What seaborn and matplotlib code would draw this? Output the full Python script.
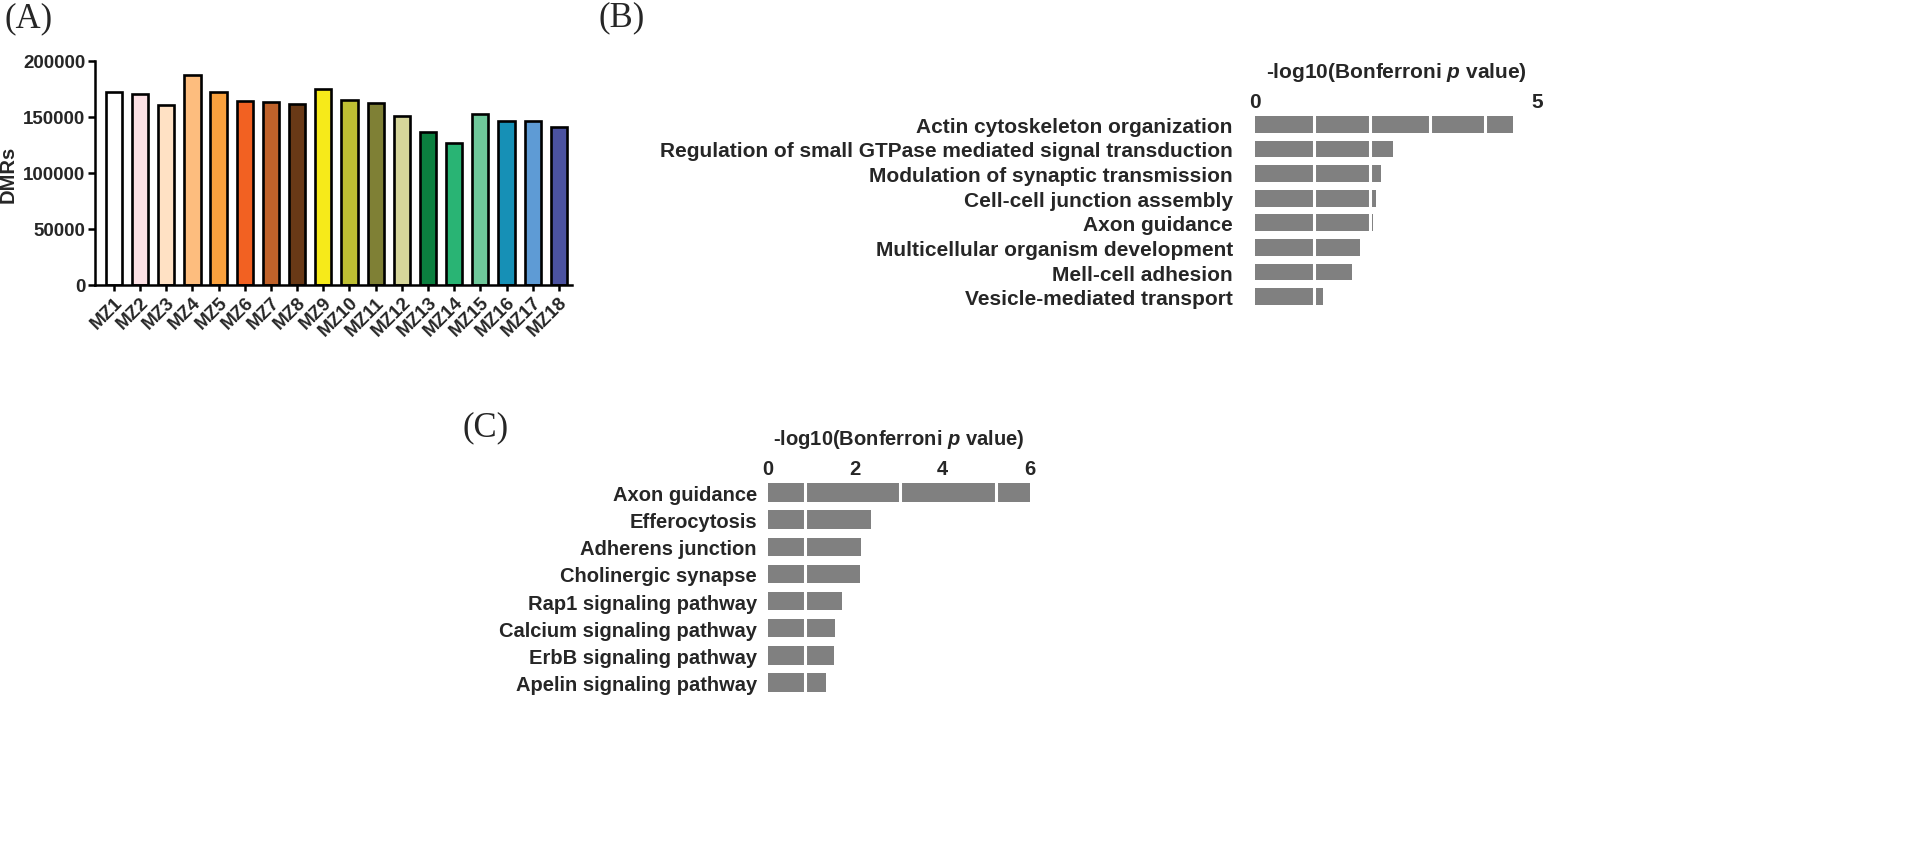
import matplotlib
matplotlib.use("Agg")
import matplotlib.pyplot as plt
import seaborn as sns
import pandas as pd

# ---------------- data ----------------
samples = ["MZ1", "MZ2", "MZ3", "MZ4", "MZ5", "MZ6", "MZ7", "MZ8", "MZ9",
           "MZ10", "MZ11", "MZ12", "MZ13", "MZ14", "MZ15", "MZ16", "MZ17", "MZ18"]
dmrs = [172600, 170700, 161000, 187300, 172400, 164700, 163000, 161800, 175000,
        165100, 162700, 151200, 137000, 126900, 152300, 146000, 146000, 141500]
sample_colors = ["#FFFFFF", "#FCE0E4", "#FFE1C4", "#FDBD7E", "#F9A13E", "#F26122",
                 "#C0622A", "#693916", "#F6EA1A", "#BEBF33", "#7F8035", "#D6D69A",
                 "#0B7F3F", "#29B474", "#6FC89B", "#1690B6", "#5E9BD5", "#4B52A0"]

go_terms = ["Actin cytoskeleton organization",
            "Regulation of small GTPase mediated signal transduction",
            "Modulation of synaptic transmission",
            "Cell-cell junction assembly",
            "Axon guidance",
            "Multicellular organism development",
            "Mell-cell adhesion",
            "Vesicle-mediated transport"]
go_values = [4.57, 2.45, 2.24, 2.15, 2.10, 1.86, 1.72, 1.20]
go_ticks = [0, 5]

kegg_terms = ["Axon guidance", "Efferocytosis", "Adherens junction",
              "Cholinergic synapse", "Rap1 signaling pathway",
              "Calcium signaling pathway", "ErbB signaling pathway",
              "Apelin signaling pathway"]
kegg_values = [6.0, 2.36, 2.14, 2.11, 1.70, 1.53, 1.51, 1.32]
kegg_ticks = [0, 2, 4, 6]

go_breaks = [1.04, 2.04, 3.1, 4.07]
kegg_breaks = [0.84, 3.02, 5.22]

xlabel_txt = r"-log10(Bonferroni $\mathbfit{p}$ value)"

# ---------------- style ----------------
sns.set_theme(style="white")
plt.rcParams["font.family"] = ["Liberation Sans", "DejaVu Sans"]
plt.rcParams["font.weight"] = "bold"
plt.rcParams["mathtext.fontset"] = "custom"
plt.rcParams["mathtext.bfit"] = "Liberation Sans:italic:bold"
plt.rcParams["mathtext.rm"] = "Liberation Sans:bold"

W, H = 1930, 862
fig = plt.figure(figsize=(W / 100, H / 100), dpi=100)


def box(x0, y0, x1, y1):
    return [x0 / W, 1 - y1 / H, (x1 - x0) / W, (y1 - y0) / H]


# ---------------- panel A ----------------
axA = fig.add_axes(box(95, 62, 572, 286))
dfA = pd.DataFrame({"sample": samples, "dmrs": dmrs})
sns.barplot(data=dfA, x="sample", y="dmrs", hue="sample", palette=sample_colors,
            legend=False, width=0.62, edgecolor="black", linewidth=1.9, ax=axA,
            saturation=1)
axA.set_xlim(-0.72, 17.5)
axA.set_ylim(0, 200000)
axA.set_yticks([0, 50000, 100000, 150000, 200000])
axA.set_yticklabels(["0", "50000", "100000", "150000", "200000"], fontsize=13.5,
                    fontweight="bold")
axA.set_xticks(range(len(samples)))
axA.set_xticklabels(samples, rotation=45, ha="right", rotation_mode="anchor",
                    fontsize=13.5, fontweight="bold")
axA.set_xlabel("")
axA.set_ylabel("DMRs", fontsize=14.5, fontweight="bold")
axA.yaxis.set_label_coords(-0.163, 0.5)
for s in ["top", "right"]:
    axA.spines[s].set_visible(False)
for s in ["left", "bottom"]:
    axA.spines[s].set_linewidth(1.8)
    axA.spines[s].set_color("black")
axA.tick_params(axis="y", length=5, width=1.8, color="black", pad=2, left=True)
axA.tick_params(axis="x", length=4, width=1.8, color="black", pad=2, bottom=True)


# ---------------- horizontal bar panels ----------------
def hbar(ax, terms, values, ticks, breaks, xmax, label_pad, fs):
    df = pd.DataFrame({"term": terms, "value": values})
    sns.barplot(data=df, x="value", y="term", color="#808080", saturation=1,
                orient="h", width=0.68, ax=ax, linewidth=0)
    for b in breaks:
        ax.axvline(b, color="white", lw=2.2, zorder=5)
    ax.set_xlim(0, xmax)
    ax.set_ylim(len(terms) - 0.5, -0.5)
    ax.xaxis.tick_top()
    ax.set_xticks(ticks)
    ax.set_xticklabels([str(t) for t in ticks], fontsize=fs, fontweight="bold")
    ax.set_yticks(range(len(terms)))
    ax.set_yticklabels(terms, fontsize=fs, fontweight="bold")
    ax.tick_params(axis="x", length=0, pad=1)
    ax.tick_params(axis="y", length=0, pad=label_pad)
    ax.set_xlabel("")
    ax.set_ylabel("")
    for s in ax.spines.values():
        s.set_visible(False)
    ax.annotate(xlabel_txt, xy=(0.5, 1.0), xycoords="axes fraction",
                xytext=(0, 29), textcoords="offset points", ha="center",
                va="center", fontsize=fs, fontweight="bold")


axB = fig.add_axes(box(1255, 113, 1537, 310))
hbar(axB, go_terms, go_values, go_ticks, go_breaks, 5, 16, 15)

axC = fig.add_axes(box(768, 480, 1030, 697))
hbar(axC, kegg_terms, kegg_values, kegg_ticks, kegg_breaks, 6, 8, 14.5)

# ---------------- panel letters ----------------
for txt, x, y in [("(A)", 4, 19), ("(B)", 598, 18), ("(C)", 463, 428)]:
    fig.text(x / W, 1 - y / H, txt, fontsize=25, family="Liberation Serif",
             fontweight="normal", va="center", ha="left")

fig.savefig("out.png", dpi=100)
